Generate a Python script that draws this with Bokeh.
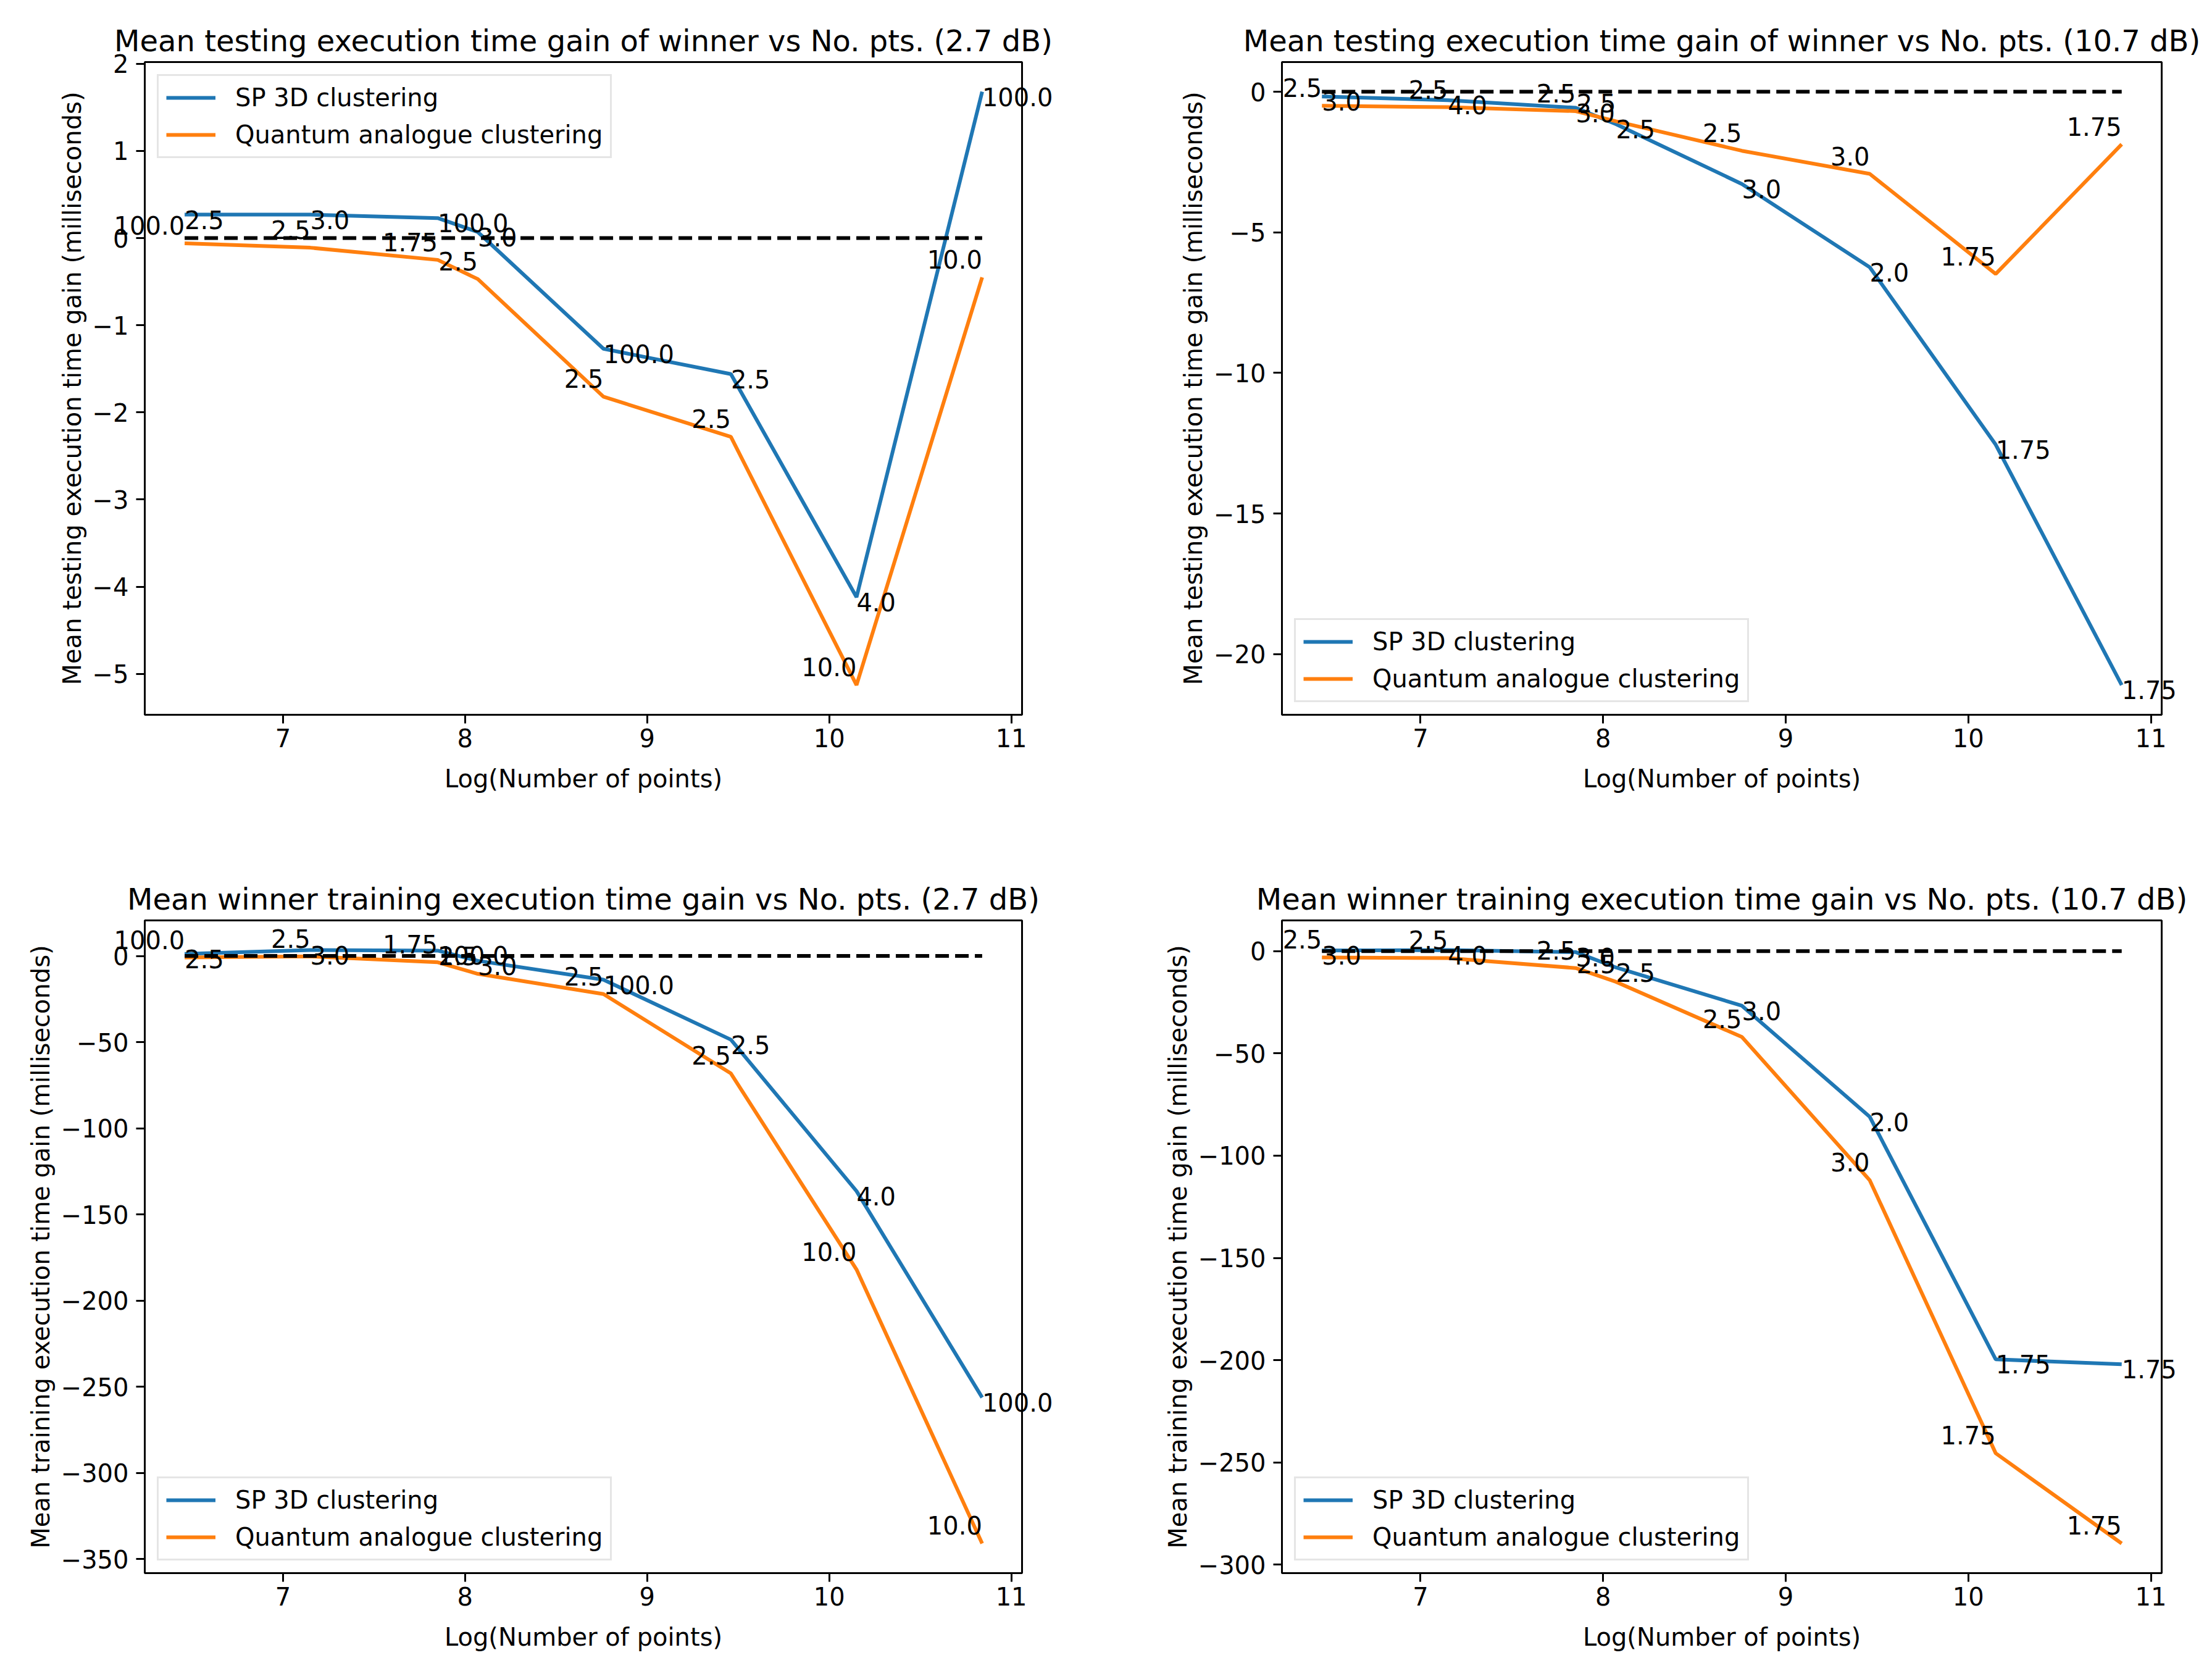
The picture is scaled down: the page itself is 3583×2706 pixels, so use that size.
from bokeh.plotting import figure
from bokeh.models import Range1d, FixedTicker, Label, CustomJSTickFormatter
from bokeh.layouts import column, row
from bokeh.embed import file_html
from bokeh.resources import INLINE

# ---------------- data ----------------
log_n = [6.46, 7.15, 7.85, 8.07, 8.76, 9.46, 10.15, 10.84]
x_ticks = [7, 8, 9, 10, 11]

# testing, 2.7 dB
test27_sp = [0.27, 0.27, 0.23, 0.07, -1.27, -1.56, -4.12, 1.68]
test27_qa = [-0.06, -0.11, -0.25, -0.47, -1.82, -2.28, -5.13, -0.45]
test27_sp_lbl = ["2.5", "3.0", "100.0", "3.0", "100.0", "2.5", "4.0", "100.0"]
test27_qa_lbl = ["100.0", "2.5", "1.75", "2.5", "2.5", "2.5", "10.0", "10.0"]
test27_yticks = [-5, -4, -3, -2, -1, 0, 1, 2]

# testing, 10.7 dB
test107_sp = [-0.17, -0.30, -0.57, -1.15, -3.28, -6.24, -12.55, -21.1]
test107_qa = [-0.50, -0.55, -0.69, -1.05, -2.10, -2.92, -6.48, -1.87]
test107_sp_lbl = ["3.0", "4.0", "3.0", "2.5", "3.0", "2.0", "1.75", "1.75"]
test107_qa_lbl = ["2.5", "2.5", "2.5", "2.5", "2.5", "3.0", "1.75", "1.75"]
test107_yticks = [-20, -15, -10, -5, 0]

# training, 2.7 dB
train27_sp = [1.2, 3.4, 3.1, -2.8, -13.8, -48.6, -136.5, -256.3]
train27_qa = [-0.9, -0.3, -3.7, -10.4, -22.1, -68.2, -182.0, -341.0]
train27_sp_lbl = ["2.5", "3.0", "100.0", "3.0", "100.0", "2.5", "4.0", "100.0"]
train27_qa_lbl = ["100.0", "2.5", "1.75", "2.5", "2.5", "2.5", "10.0", "10.0"]
train27_yticks = [-350, -300, -250, -200, -150, -100, -50, 0]

# training, 10.7 dB
train107_sp = [0.3, 0.5, -0.5, -8.0, -26.7, -81.0, -199.6, -202.0]
train107_qa = [-3.1, -3.4, -8.3, -15.0, -42.0, -112.0, -245.5, -289.6]
train107_sp_lbl = ["3.0", "4.0", "3.0", "2.5", "3.0", "2.0", "1.75", "1.75"]
train107_qa_lbl = ["2.5", "2.5", "2.5", "2.5", "2.5", "3.0", "1.75", "1.75"]
train107_yticks = [-300, -250, -200, -150, -100, -50, 0]

series_names = ["SP 3D clustering", "Quantum analogue clustering"]
zero_line = [0, 0, 0, 0, 0, 0, 0, 0]

FONT = "DejaVu Sans"
BLUE = "#1f77b4"
ORANGE = "#ff7f0e"

minus_fmt = CustomJSTickFormatter(code="""
    return tick < 0 ? "\u2212" + Math.abs(tick) : tick.toString();
""")


def make(title, ylabel, sp, qa, sp_lbl, qa_lbl, yticks, legend_loc, size, borders,
         overflow):
    """overflow: {(series, index): side} - point labels that run past the
    plot frame are put in a side panel (not clipped); the rest stay inside."""
    lo = min(min(sp), min(qa), min(zero_line))
    hi = max(max(sp), max(qa), max(zero_line))
    pad = 0.05 * (hi - lo)
    xlo, xhi = min(log_n), max(log_n)
    xpad = 0.05 * (xhi - xlo)
    bl, br, bt, bb = borders
    w, h = size
    p = figure(width=w, height=h, output_backend="svg", toolbar_location=None,
               x_range=Range1d(xlo - xpad, xhi + xpad),
               y_range=Range1d(lo - pad, hi + pad),
               min_border_left=bl, min_border_right=br,
               min_border_top=bt, min_border_bottom=bb,
               title=title)
    p.background_fill_color = "white"
    p.border_fill_color = "white"
    p.outline_line_color = "black"
    p.outline_line_width = 3
    p.outline_line_alpha = 1.0
    p.grid.visible = False

    p.title.text_font = FONT
    p.title.text_font_size = "48px"
    p.title.text_font_style = "normal"
    p.title.text_color = "black"
    p.title.align = "center"
    p.title.standoff = 13

    for ax in (p.xaxis[0], p.yaxis[0]):
        ax.axis_line_color = None
        ax.major_tick_in = 0
        ax.major_tick_out = 14
        ax.major_tick_line_width = 3
        ax.major_tick_line_color = "black"
        ax.minor_tick_line_color = None
        ax.major_label_text_font = FONT
        ax.major_label_text_font_size = "40px"
        ax.major_label_text_color = "black"
        ax.axis_label_text_font = FONT
        ax.axis_label_text_font_size = "40px"
        ax.axis_label_text_font_style = "normal"
        ax.axis_label_text_color = "black"
    p.xaxis[0].major_label_standoff = 8
    p.xaxis[0].axis_label_standoff = 25
    p.yaxis[0].major_label_standoff = 12
    p.yaxis[0].axis_label_standoff = 7
    p.xaxis[0].ticker = FixedTicker(ticks=x_ticks)
    p.yaxis[0].ticker = FixedTicker(ticks=yticks)
    p.yaxis[0].formatter = minus_fmt
    p.xaxis[0].formatter = minus_fmt
    p.xaxis[0].axis_label = "Log(Number of points)"
    p.yaxis[0].axis_label = ylabel

    p.line(log_n, sp, color=BLUE, line_width=6, legend_label=series_names[0])
    p.line(log_n, qa, color=ORANGE, line_width=6, legend_label=series_names[1])
    p.line(log_n, zero_line, color="black", line_width=6, line_dash="22 10")

    for key, ys, lbls, align, yoff in (("sp", sp, sp_lbl, "left", -8),
                                       ("qa", qa, qa_lbl, "right", 29)):
        for i, (xv, yv, t) in enumerate(zip(log_n, ys, lbls)):
            lab = Label(x=xv, y=yv, text=t, text_align=align,
                        text_baseline="alphabetic", y_offset=yoff,
                        text_font=FONT, text_font_size="40px",
                        text_color="black")
            side = overflow.get((key, i), "center")
            p.add_layout(lab, side)

    lg = p.legend[0]
    lg.location = legend_loc
    lg.margin = 20
    lg.padding = 12
    lg.spacing = 14
    lg.glyph_width = 80
    lg.glyph_height = 46
    lg.label_height = 46
    lg.label_standoff = 32
    lg.label_text_font = FONT
    lg.label_text_font_size = "40px"
    lg.label_text_color = "black"
    lg.border_line_color = "#cccccc"
    lg.border_line_width = 3
    lg.background_fill_color = "white"
    lg.background_fill_alpha = 0.8
    return p


ylab_test = "Mean testing execution time gain (milliseconds)"
ylab_train = "Mean training execution time gain (milliseconds)"

p1 = make("Mean testing execution time gain of winner vs No. pts. (2.7 dB)", ylab_test,
          test27_sp, test27_qa, test27_sp_lbl, test27_qa_lbl, test27_yticks, "top_left",
          (1783, 1353), (234, 128, 100, 196),
          {("qa", 0): "below", ("sp", 7): "right"})
p2 = make("Mean testing execution time gain of winner vs No. pts. (10.7 dB)", ylab_test,
          test107_sp, test107_qa, test107_sp_lbl, test107_qa_lbl, test107_yticks, "bottom_left",
          (1783, 1353), (293, 65, 100, 196),
          {("sp", 7): "below"})
p3 = make("Mean winner training execution time gain vs No. pts. (2.7 dB)", ylab_train,
          train27_sp, train27_qa, train27_sp_lbl, train27_qa_lbl, train27_yticks, "bottom_left",
          (1783, 1353), (234, 128, 137, 158),
          {("qa", 0): "below", ("sp", 7): "right"})
p4 = make("Mean winner training execution time gain vs No. pts. (10.7 dB)", ylab_train,
          train107_sp, train107_qa, train107_sp_lbl, train107_qa_lbl, train107_yticks, "bottom_left",
          (1783, 1353), (293, 65, 137, 158),
          {("sp", 7): "left"})

layout = column(row(p1, p2), row(p3, p4))
open("out.html", "w").write(file_html(layout, INLINE))
